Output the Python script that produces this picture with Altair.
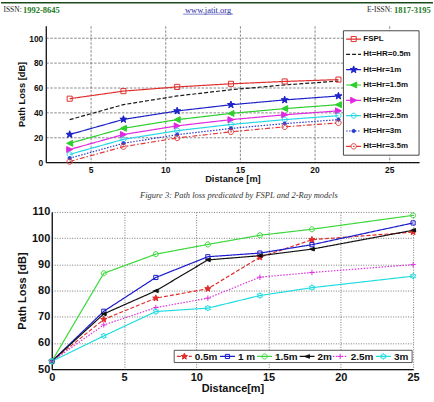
import math
import altair as alt
import pandas as pd

SANS = "Liberation Sans"
SERIF = "Liberation Serif"

# ---------------- Figure 3: FSPL and 2-Ray path loss ----------------
dist_a = [3.6, 7.2, 10.8, 14.4, 18.0, 21.6]
fspl = [51.2, 57.3, 60.7, 63.2, 65.1, 66.6]
h05 = [34.3, 46.4, 53.4, 58.4, 62.3, 65.4]
h10 = [22.3, 34.5, 41.3, 46.3, 50.2, 53.4]
h15 = [15.2, 27.3, 34.3, 39.3, 43.2, 46.4]
h20 = [10.2, 22.3, 29.3, 34.3, 38.2, 41.4]
h25 = [6.3, 18.4, 25.4, 30.4, 34.3, 37.5]
h30 = [3.2, 15.2, 22.2, 27.2, 31.1, 34.3]
h35 = [0.5, 12.5, 19.5, 24.5, 28.5, 31.7]
series_a = ["FSPL", "Ht=HR=0.5m", "Ht=Hr=1m", "Ht=Hr=1.5m",
            "Ht=Hr=2m", "Ht=Hr=2.5m", "Ht=Hr=3m", "Ht=Hr=3.5m"]
values_a = [fspl, h05, h10, h15, h20, h25, h30, h35]

# ---------------- Measured path loss ----------------
dist_b = [0, 3.6, 7.2, 10.8, 14.4, 18.0, 25]
m05 = [53, 69.0, 77.1, 80.7, 92.7, 99.4, 102.3]
m10 = [53, 72.1, 85.0, 92.9, 94.3, 97.5, 105.8]
m15 = [53, 86.6, 93.9, 97.6, 101.1, 103.4, 108.7]
m20 = [53, 71.1, 79.9, 91.7, 93.3, 95.8, 103.0]
m25 = [53, 66.9, 73.5, 77.1, 85.1, 86.9, 89.9]
m30 = [53, 62.7, 72.0, 73.3, 78.1, 81.1, 85.5]
series_b = ["0.5m", "1 m", "1.5m", "2m", "2.5m", "3m"]
values_b = [m05, m10, m15, m20, m25, m30]


def long_frame(names, dists, values):
    rows = []
    for name, vals in zip(names, values):
        for d, v in zip(dists, vals):
            rows.append({"s": name, "d": d, "v": v})
    return pd.DataFrame(rows)


# marker outlines (unit coordinates, scaled by the symbol size)
def star(n, outer, ratio):
    pts = []
    for k in range(2 * n):
        r = outer if k % 2 == 0 else outer * ratio
        a = -math.pi / 2 + k * math.pi / n
        pts.append(f"{r * math.cos(a):.3f},{r * math.sin(a):.3f}")
    return "M" + "L".join(pts) + "Z"


def circle(r):
    return f"M{r},0A{r},{r} 0 1,1 {-r},0A{r},{r} 0 1,1 {r},0Z"


def square(h):
    return f"M{-h},{-h}L{h},{-h}L{h},{h}L{-h},{h}Z"


def tri_left(w, h):
    return f"M{-w},0L{w},{-h}L{w},{h}Z"


def tri_right(w, h):
    return f"M{w},0L{-w},{-h}L{-w},{h}Z"


PLUS = "M-0.9,0L0.9,0M0,-0.9L0,0.9"
NONE = "transparent"


def note(txt, x, y, **kw):
    return alt.Chart(pd.DataFrame({"t": [txt]})).mark_text(**kw).encode(
        x=alt.value(x), y=alt.value(y), text="t:N")


def one_row():
    return alt.Chart(pd.DataFrame({"k": [0]}))


# ======================= upper chart =======================
W1, H1 = 375, 137
red, blk, blu, grn, mag, cyn = "#e0302e", "#1a1a1a", "#1c22c8", "#2ccf2c", "#e028e0", "#25d6e6"
colors_a = [red, blk, blu, grn, mag, cyn, "#2a3acc", "#e03a3a"]
dash_a = [[1, 0], [4, 2], [1, 0], [1, 0], [1, 0], [1, 0], [1.5, 1.5], [5, 2, 1.5, 2]]
shapes_a = [square(0.85), circle(0.5), star(5, 1.25, 0.42), tri_left(1, 1),
            tri_right(1, 1), circle(0.85), circle(0.55), circle(0.9)]
fills_a = [NONE, NONE, blu, grn, mag, NONE, "#2a3acc", NONE]

df_a = long_frame(series_a, dist_a, values_a)

grid_a = dict(grid=True, gridColor="#6a6a6a", gridDash=[2.5, 1.5], gridWidth=0.8,
              domainColor="#111", domainWidth=1.3, ticks=False,
              labelFont=SANS, labelFontSize=8.5, labelFontWeight="bold", labelColor="#111",
              labelFlush=False, titleFont=SANS, titleFontSize=9.3, titleFontWeight="bold",
              titleColor="#111")
x_a = alt.X("d:Q", scale=alt.Scale(domain=[2, 27], nice=False, zero=False),
            axis=alt.Axis(values=[5, 10, 15, 20, 25], title="Distance [m]",
                          labelPadding=3, titlePadding=1, **grid_a))
y_a = alt.Y("v:Q", scale=alt.Scale(domain=[0, 110], nice=False),
            axis=alt.Axis(values=[0, 20, 40, 60, 80, 100], title="Path Loss [dB]",
                          labelPadding=3, titlePadding=2, **grid_a))
col_a = alt.Color("s:N", scale=alt.Scale(domain=series_a, range=colors_a), legend=None)
dsh_a = alt.StrokeDash("s:N", scale=alt.Scale(domain=series_a, range=dash_a), legend=None)
shp_a = alt.Shape("s:N", scale=alt.Scale(domain=series_a, range=shapes_a), legend=None)
fil_a = alt.Fill("s:N", scale=alt.Scale(domain=series_a, range=fills_a), legend=None)
no_marker = alt.datum.s != series_a[1]

lines_a = alt.Chart(df_a).mark_line(strokeWidth=1.2).encode(x=x_a, y=y_a, color=col_a, strokeDash=dsh_a)
points_a = alt.Chart(df_a).transform_filter(no_marker).mark_point(
    size=36, strokeWidth=1, opacity=1).encode(x=x_a, y=y_a, color=col_a, shape=shp_a, fill=fil_a)

# legend box, upper right
leg_a = pd.DataFrame({"s": series_a, "ly": [13.3 + 15.4 * i for i in range(len(series_a))]})
box_a = one_row().mark_rect(fill="white", stroke="#333", strokeWidth=0.9).encode(
    x=alt.value(299), x2=alt.value(375), y=alt.value(5), y2=alt.value(130))
leg_rule_a = alt.Chart(leg_a).mark_rule(strokeWidth=1.2).encode(
    x=alt.value(301.7), x2=alt.value(316.7), y=alt.Y("ly:Q", scale=None),
    color=col_a, strokeDash=dsh_a)
leg_pts_a = alt.Chart(leg_a).transform_filter(no_marker).mark_point(
    size=36, strokeWidth=1, opacity=1).encode(
    x=alt.value(309.3), y=alt.Y("ly:Q", scale=None), color=col_a, shape=shp_a, fill=fil_a)
leg_txt_a = alt.Chart(leg_a).mark_text(
    align="left", baseline="middle", font=SANS, fontSize=8, fontWeight="bold", color="#111").encode(
    x=alt.value(319), y=alt.Y("ly:Q", scale=None), text="s:N")

# journal page header
bar = one_row().mark_rect(fill="#1d4a1d").encode(
    x=alt.value(-45), x2=alt.value(389), y=alt.value(-24), y2=alt.value(-22.5))
h1 = note("ISSN:", -42.5, -16, align="left", baseline="middle", font=SERIF,
          fontSize=7.5, color="#222")
h2 = note("1992-8645", -22.8, -16, align="left", baseline="middle", font=SERIF,
          fontSize=8.5, color="#1e7a1e", fontWeight="bold")
h3 = note("www.jatit.org", 163, -16, align="center", baseline="middle", font=SERIF,
          fontSize=8.5, color="#2a2aa8")
h3u = one_row().mark_rule(color="#2a2aa8", strokeWidth=0.6).encode(
    x=alt.value(138), x2=alt.value(188), y=alt.value(-11.7))
h4 = note("E-ISSN:", 348, -16, align="right", baseline="middle", font=SERIF,
          fontSize=7.5, color="#222")
h5 = note("1817-3195", 386.7, -16, align="right", baseline="middle", font=SERIF,
          fontSize=8.5, color="#1e7a1e", fontWeight="bold")

top = alt.layer(lines_a, points_a, box_a, leg_rule_a, leg_pts_a, leg_txt_a,
                bar, h1, h2, h3, h3u, h4, h5).properties(width=W1, height=H1)

# ======================= lower chart =======================
W2, H2 = 363, 158
colors_b = ["#e02a2a", "#1a1acc", "#3ad83a", "#111111", "#dd33dd", "#22dde0"]
dash_b = [[4, 2], [1, 0], [1, 0], [1, 0], [1.5, 1.5], [1, 0]]
shapes_b = [star(5, 1.1, 0.42), square(0.7), circle(0.85), tri_left(0.8, 0.6),
            PLUS, star(6, 1.0, 0.577)]
fills_b = ["#e02a2a", NONE, NONE, "#111111", NONE, NONE]

df_b = long_frame(series_b, dist_b, values_b)

grid_b = dict(grid=True, gridColor="#5a5a5a", gridDash=[1, 1.5], gridWidth=0.8,
              domainColor="#111", domainWidth=1.3, ticks=False,
              labelFont=SANS, labelFontSize=11, labelFontWeight="bold", labelColor="#111",
              labelFlush=False, titleFont=SANS, titleFontSize=11, titleFontWeight="bold",
              titleColor="#111")
x_b = alt.X("d:Q", scale=alt.Scale(domain=[0, 25], nice=False),
            axis=alt.Axis(values=[0, 5, 10, 15, 20, 25], title="Distance[m]",
                          labelPadding=2, titlePadding=0, **grid_b))
y_b = alt.Y("v:Q", scale=alt.Scale(domain=[50, 110], nice=False, zero=False),
            axis=alt.Axis(values=[50, 60, 70, 80, 90, 100, 110], title="Path Loss [dB]",
                          labelPadding=2, titlePadding=4, **grid_b))
col_b = alt.Color("s:N", scale=alt.Scale(domain=series_b, range=colors_b), legend=None)
dsh_b = alt.StrokeDash("s:N", scale=alt.Scale(domain=series_b, range=dash_b), legend=None)
shp_b = alt.Shape("s:N", scale=alt.Scale(domain=series_b, range=shapes_b), legend=None)
fil_b = alt.Fill("s:N", scale=alt.Scale(domain=series_b, range=fills_b), legend=None)

lines_b = alt.Chart(df_b).mark_line(strokeWidth=1.2).encode(x=x_b, y=y_b, color=col_b, strokeDash=dsh_b)
points_b = alt.Chart(df_b).mark_point(size=36, strokeWidth=1, opacity=1).encode(
    x=x_b, y=y_b, color=col_b, shape=shp_b, fill=fil_b)

# horizontal legend along the bottom
leg_start = [125.7, 169.0, 206.3, 249.0, 282.3, 325.7]
leg_b = pd.DataFrame({"s": series_b, "lx": leg_start})
leg_b["lx2"] = leg_b["lx"] + 15
leg_b["lm"] = leg_b["lx"] + 7.5
leg_b["lt"] = leg_b["lx"] + 18
box_b = one_row().mark_rect(fill="white", stroke="#444", strokeWidth=0.9).encode(
    x=alt.value(123), x2=alt.value(362), y=alt.value(139), y2=alt.value(151.3))
leg_rule_b = alt.Chart(leg_b).mark_rule(strokeWidth=1.2).encode(
    x=alt.X("lx:Q", scale=None), x2=alt.X2("lx2:Q"), y=alt.value(145.2),
    color=col_b, strokeDash=dsh_b)
leg_pts_b = alt.Chart(leg_b).mark_point(size=36, strokeWidth=1, opacity=1).encode(
    x=alt.X("lm:Q", scale=None), y=alt.value(145.2), color=col_b, shape=shp_b, fill=fil_b)
leg_txt_b = alt.Chart(leg_b).mark_text(
    align="left", baseline="middle", font=SANS, fontSize=10, fontWeight="bold", color="#111").encode(
    x=alt.X("lt:Q", scale=None), y=alt.value(145.5), text="s:N")

caption = note("Figure 3: Path loss predicated by FSPL and 2-Ray models", 188, -17,
               align="center", baseline="middle", font=SERIF, fontSize=8.5,
               fontStyle="italic", color="#333")

bottom = alt.layer(lines_b, points_b, box_b, leg_rule_b, leg_pts_b, leg_txt_b,
                   caption).properties(width=W2, height=H2)

chart = alt.vconcat(top, bottom, spacing=50, center=True, bounds="flush").resolve_scale(
    color="independent", strokeDash="independent", shape="independent", fill="independent"
).configure_view(stroke="transparent").properties(
    padding=0, background="white", autosize=alt.AutoSizeParams(type="pad"))

chart.save("out.html", embed_options={"renderer": "svg", "actions": False})
